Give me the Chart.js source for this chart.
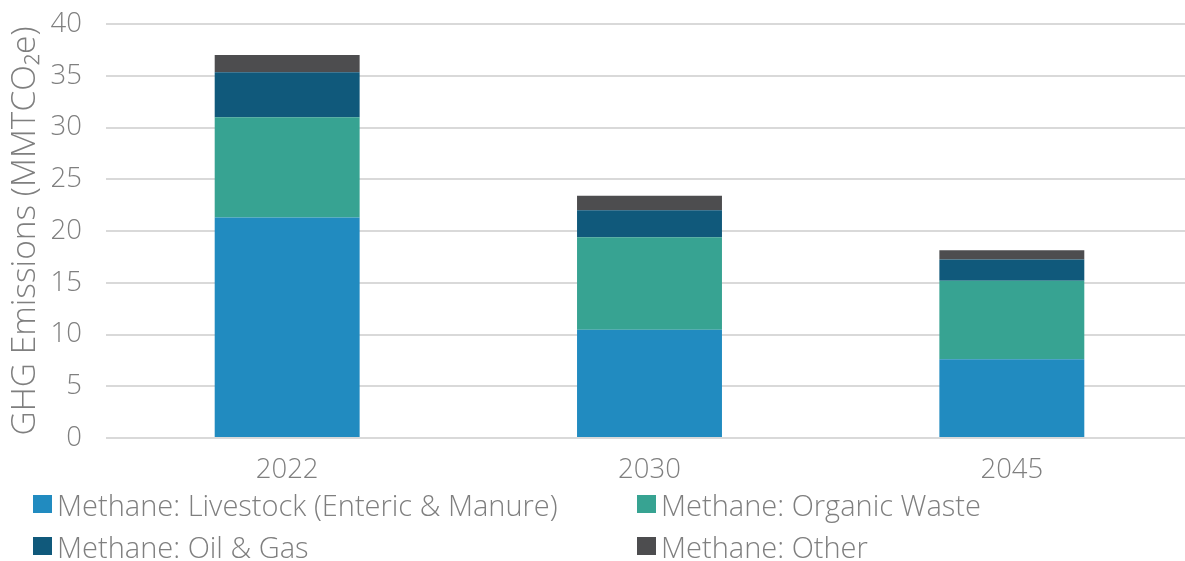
<!DOCTYPE html>
<html>
<head>
<meta charset="utf-8">
<script src="https://cdn.jsdelivr.net/npm/chart.js@4.4.1/dist/chart.umd.min.js"></script>
<style>
  html, body { margin: 0; padding: 0; background: #fff; overflow: hidden; width: 1185px; height: 561px; }
  #wrap { position: absolute; left: 0; top: 0; width: 1193px; height: 507px; }
  #legend { position: absolute; left: 0; top: 479px; width: 1185px; height: 82px; font-family: "Open Sans", sans-serif; font-weight: 300; color: #7f7f7f; font-size: 29px; }
  .item { position: absolute; display: flex; align-items: center; white-space: nowrap; }
  .box { width: 19px; height: 18px; margin-right: 5px; }
</style>
</head>
<body>
<div id="wrap"><canvas id="c"></canvas></div>
<div id="legend"></div>
<script>
const categories = ['2022', '2030', '2045'];
const seriesNames = ['Methane: Livestock (Enteric & Manure)', 'Methane: Organic Waste', 'Methane: Oil & Gas', 'Methane: Other'];
const livestock = [21.3, 10.45, 7.6];
const organicWaste = [9.7, 8.95, 7.6];
const oilGas = [4.35, 2.6, 2.05];
const other = [1.65, 1.4, 0.9];
const yTicks = [0, 5, 10, 15, 20, 25, 30, 35, 40];
const colors = ['#218BC0', '#37A392', '#10597B', '#4D4D4F'];
const values = [livestock, organicWaste, oilGas, other];

const FONT = '"Open Sans", sans-serif';
const TXT = '#7f7f7f';

const datasets = seriesNames.map((n, i) => ({
  label: n,
  data: values[i],
  backgroundColor: colors[i],
  borderWidth: 0,
  categoryPercentage: 1.0,
  barPercentage: 0.4
}));

new Chart(document.getElementById('c'), {
  type: 'bar',
  data: { labels: categories, datasets },
  options: {
    responsive: true,
    maintainAspectRatio: false,
    animation: false,
    layout: { padding: { top: 24, bottom: 4, left: 0, right: 0 } },
    plugins: { legend: { display: false }, tooltip: { enabled: false } },
    scales: {
      x: {
        stacked: true,
        grid: { display: false, drawTicks: false },
        border: { display: false },
        ticks: { color: TXT, font: { family: FONT, size: 27.5, weight: 300 }, padding: 16, maxRotation: 0 }
      },
      y: {
        stacked: true,
        min: 0, max: 40,
        afterBuildTicks: (s) => { s.ticks = yTicks.map(v => ({ value: v })); },
        afterFit: (s) => { s.width = 106; s.paddingTop = 0; s.paddingBottom = 0; },
        grid: { color: '#D9D9D9', lineWidth: 2, drawTicks: false },
        border: { display: false },
        ticks: { color: TXT, font: { family: FONT, size: 27.5, weight: 300 }, padding: 24 },
        title: {
          display: true,
          text: 'GHG Emissions (MMTCO\u2082e)',
          color: TXT,
          font: { family: FONT, size: 33.5, weight: 300 },
          padding: { top: 5, bottom: 0 }
        }
      }
    }
  }
});

const leg = document.getElementById('legend');
const pos = [[33, 25], [637, 25], [33, 67], [637, 67]];
seriesNames.forEach((n, i) => {
  const it = document.createElement('div');
  it.className = 'item';
  it.style.left = pos[i][0] + 'px';
  it.style.top = (pos[i][1] - 18) + 'px';
  it.style.height = '36px';
  const b = document.createElement('span');
  b.className = 'box';
  b.style.background = colors[i];
  const t = document.createElement('span');
  t.textContent = n;
  it.appendChild(b); it.appendChild(t);
  leg.appendChild(it);
});
</script>
</body>
</html>
